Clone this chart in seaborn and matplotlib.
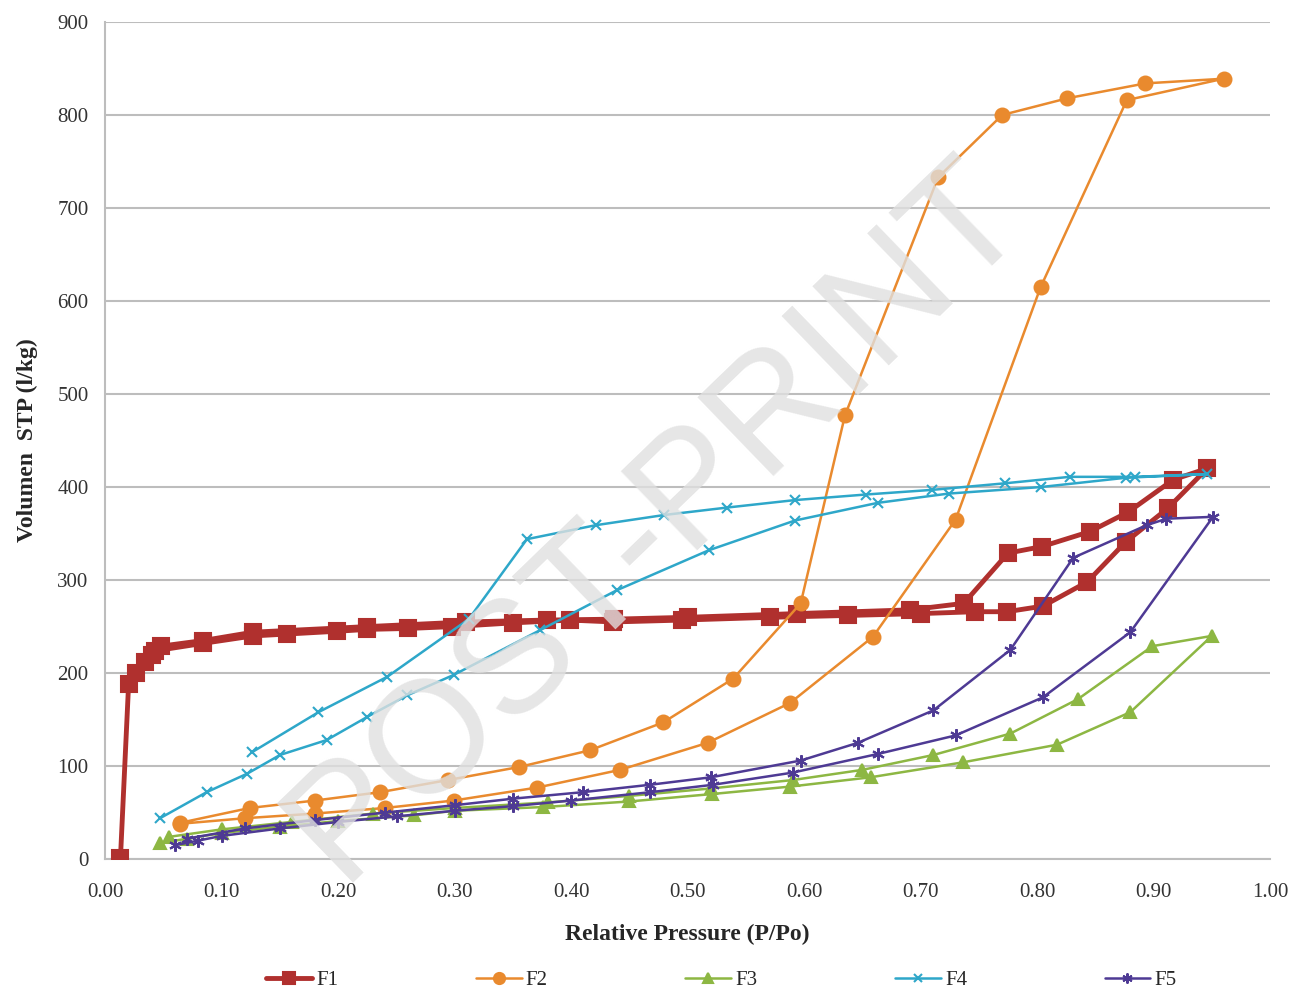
import numpy as np
import pandas as pd
import matplotlib
matplotlib.use("Agg")
import matplotlib.pyplot as plt
import seaborn as sns

# Isotermas: rama de adsorcion y luego desorcion (orden del recorrido)
f1_x = [0.013, 0.020, 0.026, 0.034, 0.043, 0.084, 0.127, 0.156, 0.199, 0.225, 0.260, 0.298,
        0.350, 0.399, 0.436, 0.495, 0.571, 0.638, 0.700, 0.747, 0.774, 0.805, 0.843, 0.876,
        0.912, 0.946, 0.917, 0.878, 0.845, 0.804, 0.775, 0.737, 0.691, 0.594, 0.500, 0.437,
        0.379, 0.310, 0.225, 0.127, 0.084, 0.048, 0.040]
f1_y = [1, 188, 200, 212, 224, 232, 240, 242, 245, 247, 248, 250,
        254, 257, 255, 257, 260, 262, 264, 266, 266, 272, 298, 341,
        377, 420, 408, 373, 352, 336, 329, 275, 268, 264, 260, 258,
        257, 255, 250, 244, 235, 229, 220]

f2_x = [0.064, 0.120, 0.180, 0.240, 0.299, 0.371, 0.442, 0.517, 0.588, 0.659, 0.730, 0.803,
        0.877, 0.960, 0.893, 0.826, 0.770, 0.715, 0.635, 0.597, 0.539, 0.479, 0.416, 0.355,
        0.294, 0.236, 0.180, 0.124, 0.064]
f2_y = [38, 44, 49, 55, 63, 77, 96, 125, 168, 239, 365, 615,
        816, 839, 834, 818, 800, 733, 477, 275, 194, 147, 117, 99,
        85, 72, 63, 55, 39]

f3_x = [0.047, 0.070, 0.100, 0.150, 0.200, 0.265, 0.300, 0.376, 0.450, 0.521, 0.588, 0.657,
        0.736, 0.817, 0.880, 0.950, 0.899, 0.835, 0.777, 0.711, 0.650, 0.590, 0.520, 0.450,
        0.380, 0.300, 0.230, 0.160, 0.100, 0.055]
f3_y = [17, 22, 28, 35, 41, 47, 52, 56, 62, 70, 78, 88,
        104, 123, 158, 240, 229, 172, 135, 112, 96, 85, 76, 68,
        61, 55, 49, 40, 32, 24]

f4_x = [0.047, 0.087, 0.122, 0.150, 0.190, 0.225, 0.259, 0.299, 0.373, 0.439, 0.518, 0.592,
        0.663, 0.724, 0.803, 0.876, 0.946, 0.884, 0.828, 0.772, 0.710, 0.653, 0.592, 0.534,
        0.480, 0.421, 0.362, 0.312, 0.242, 0.183, 0.126]
f4_y = [44, 72, 92, 112, 128, 153, 176, 198, 246, 289, 332, 364,
        383, 393, 400, 410, 414, 411, 411, 404, 397, 392, 386, 378,
        370, 359, 344, 258, 196, 158, 115]

f5_x = [0.060, 0.080, 0.100, 0.150, 0.200, 0.250, 0.300, 0.350, 0.400, 0.468, 0.522, 0.590,
        0.663, 0.730, 0.805, 0.880, 0.951, 0.911, 0.894, 0.831, 0.777, 0.711, 0.646, 0.597,
        0.520, 0.468, 0.410, 0.350, 0.300, 0.240, 0.180, 0.120, 0.070]
f5_y = [15, 20, 25, 33, 40, 46, 52, 57, 63, 72, 80, 93,
        113, 133, 174, 244, 368, 366, 359, 324, 225, 160, 125, 106,
        88, 80, 72, 65, 58, 50, 42, 33, 22]

series = ["F1", "F2", "F3", "F4", "F5"]
xs = [f1_x, f2_x, f3_x, f4_x, f5_x]
ys = [f1_y, f2_y, f3_y, f4_y, f5_y]

colores = {"F1": "#B0302E", "F2": "#E98A2E", "F3": "#8DB743", "F4": "#2EA7C9", "F5": "#4E3A94"}
marcadores = {"F1": "s", "F2": "o", "F3": "^", "F4": "x", "F5": (6, 2, 0)}
grosor = {"F1": 3.5, "F2": 1.8, "F3": 1.8, "F4": 1.8, "F5": 1.8}
tam = {"F1": 11, "F2": 10, "F3": 9, "F4": 7, "F5": 9}

sns.set_style("white")
plt.rcParams['font.family'] = ['Liberation Serif', 'DejaVu Serif']

fig = plt.figure(figsize=(13, 9.99), dpi=100)
ax = fig.add_axes([0.081, 0.14, 0.896, 0.838])

for nombre, x, y in zip(series, xs, ys):
    df = pd.DataFrame({"x": x, "y": y})
    sns.lineplot(data=df, x="x", y="y", sort=False, estimator=None, ax=ax,
                 color=colores[nombre], linewidth=grosor[nombre],
                 marker=marcadores[nombre], markersize=tam[nombre],
                 markeredgecolor=colores[nombre], markeredgewidth=1.5,
                 label=nombre, zorder=3)

ax.set_xlim(0, 1.0)
ax.set_ylim(0, 900)
ax.set_xticks(np.arange(0, 1.01, 0.1))
ax.set_xticklabels([f"{v:.2f}" for v in np.arange(0, 1.01, 0.1)])
ax.set_yticks(np.arange(0, 901, 100))
ax.yaxis.grid(True, color="#bdbdbd", linewidth=1.5)
ax.xaxis.grid(False)
for s in ["top", "right"]:
    ax.spines[s].set_visible(False)
for s in ["left", "bottom"]:
    ax.spines[s].set_color("#bdbdbd")
    ax.spines[s].set_linewidth(1.5)
ax.tick_params(axis="x", direction="out", length=5, color="#bdbdbd", labelsize=15,
               labelcolor="#333333", pad=12)
ax.tick_params(axis="y", length=0, labelsize=15, labelcolor="#333333", pad=12)
ax.set_xlabel("Relative Pressure (P/Po)", fontsize=17, fontweight="bold", labelpad=16)
ax.set_ylabel("Volumen  STP (l/kg)", fontsize=17, fontweight="bold", labelpad=14)

# marca de agua
fig.text(0.505, 0.48, "POST-PRINT", rotation=44, fontsize=115, color="#e0e0e0",
         family="Liberation Sans", ha="center", va="center", alpha=0.8, zorder=0)

ax.get_legend().remove()
handles, labels = ax.get_legend_handles_labels()
fig.legend(handles, labels, loc="lower center", bbox_to_anchor=(0.555, -0.01), ncol=5,
           frameon=False, fontsize=15, columnspacing=6.6, handlelength=2.2, handletextpad=0.2,
           markerscale=0.8)

plt.savefig("out.png", dpi=100)
